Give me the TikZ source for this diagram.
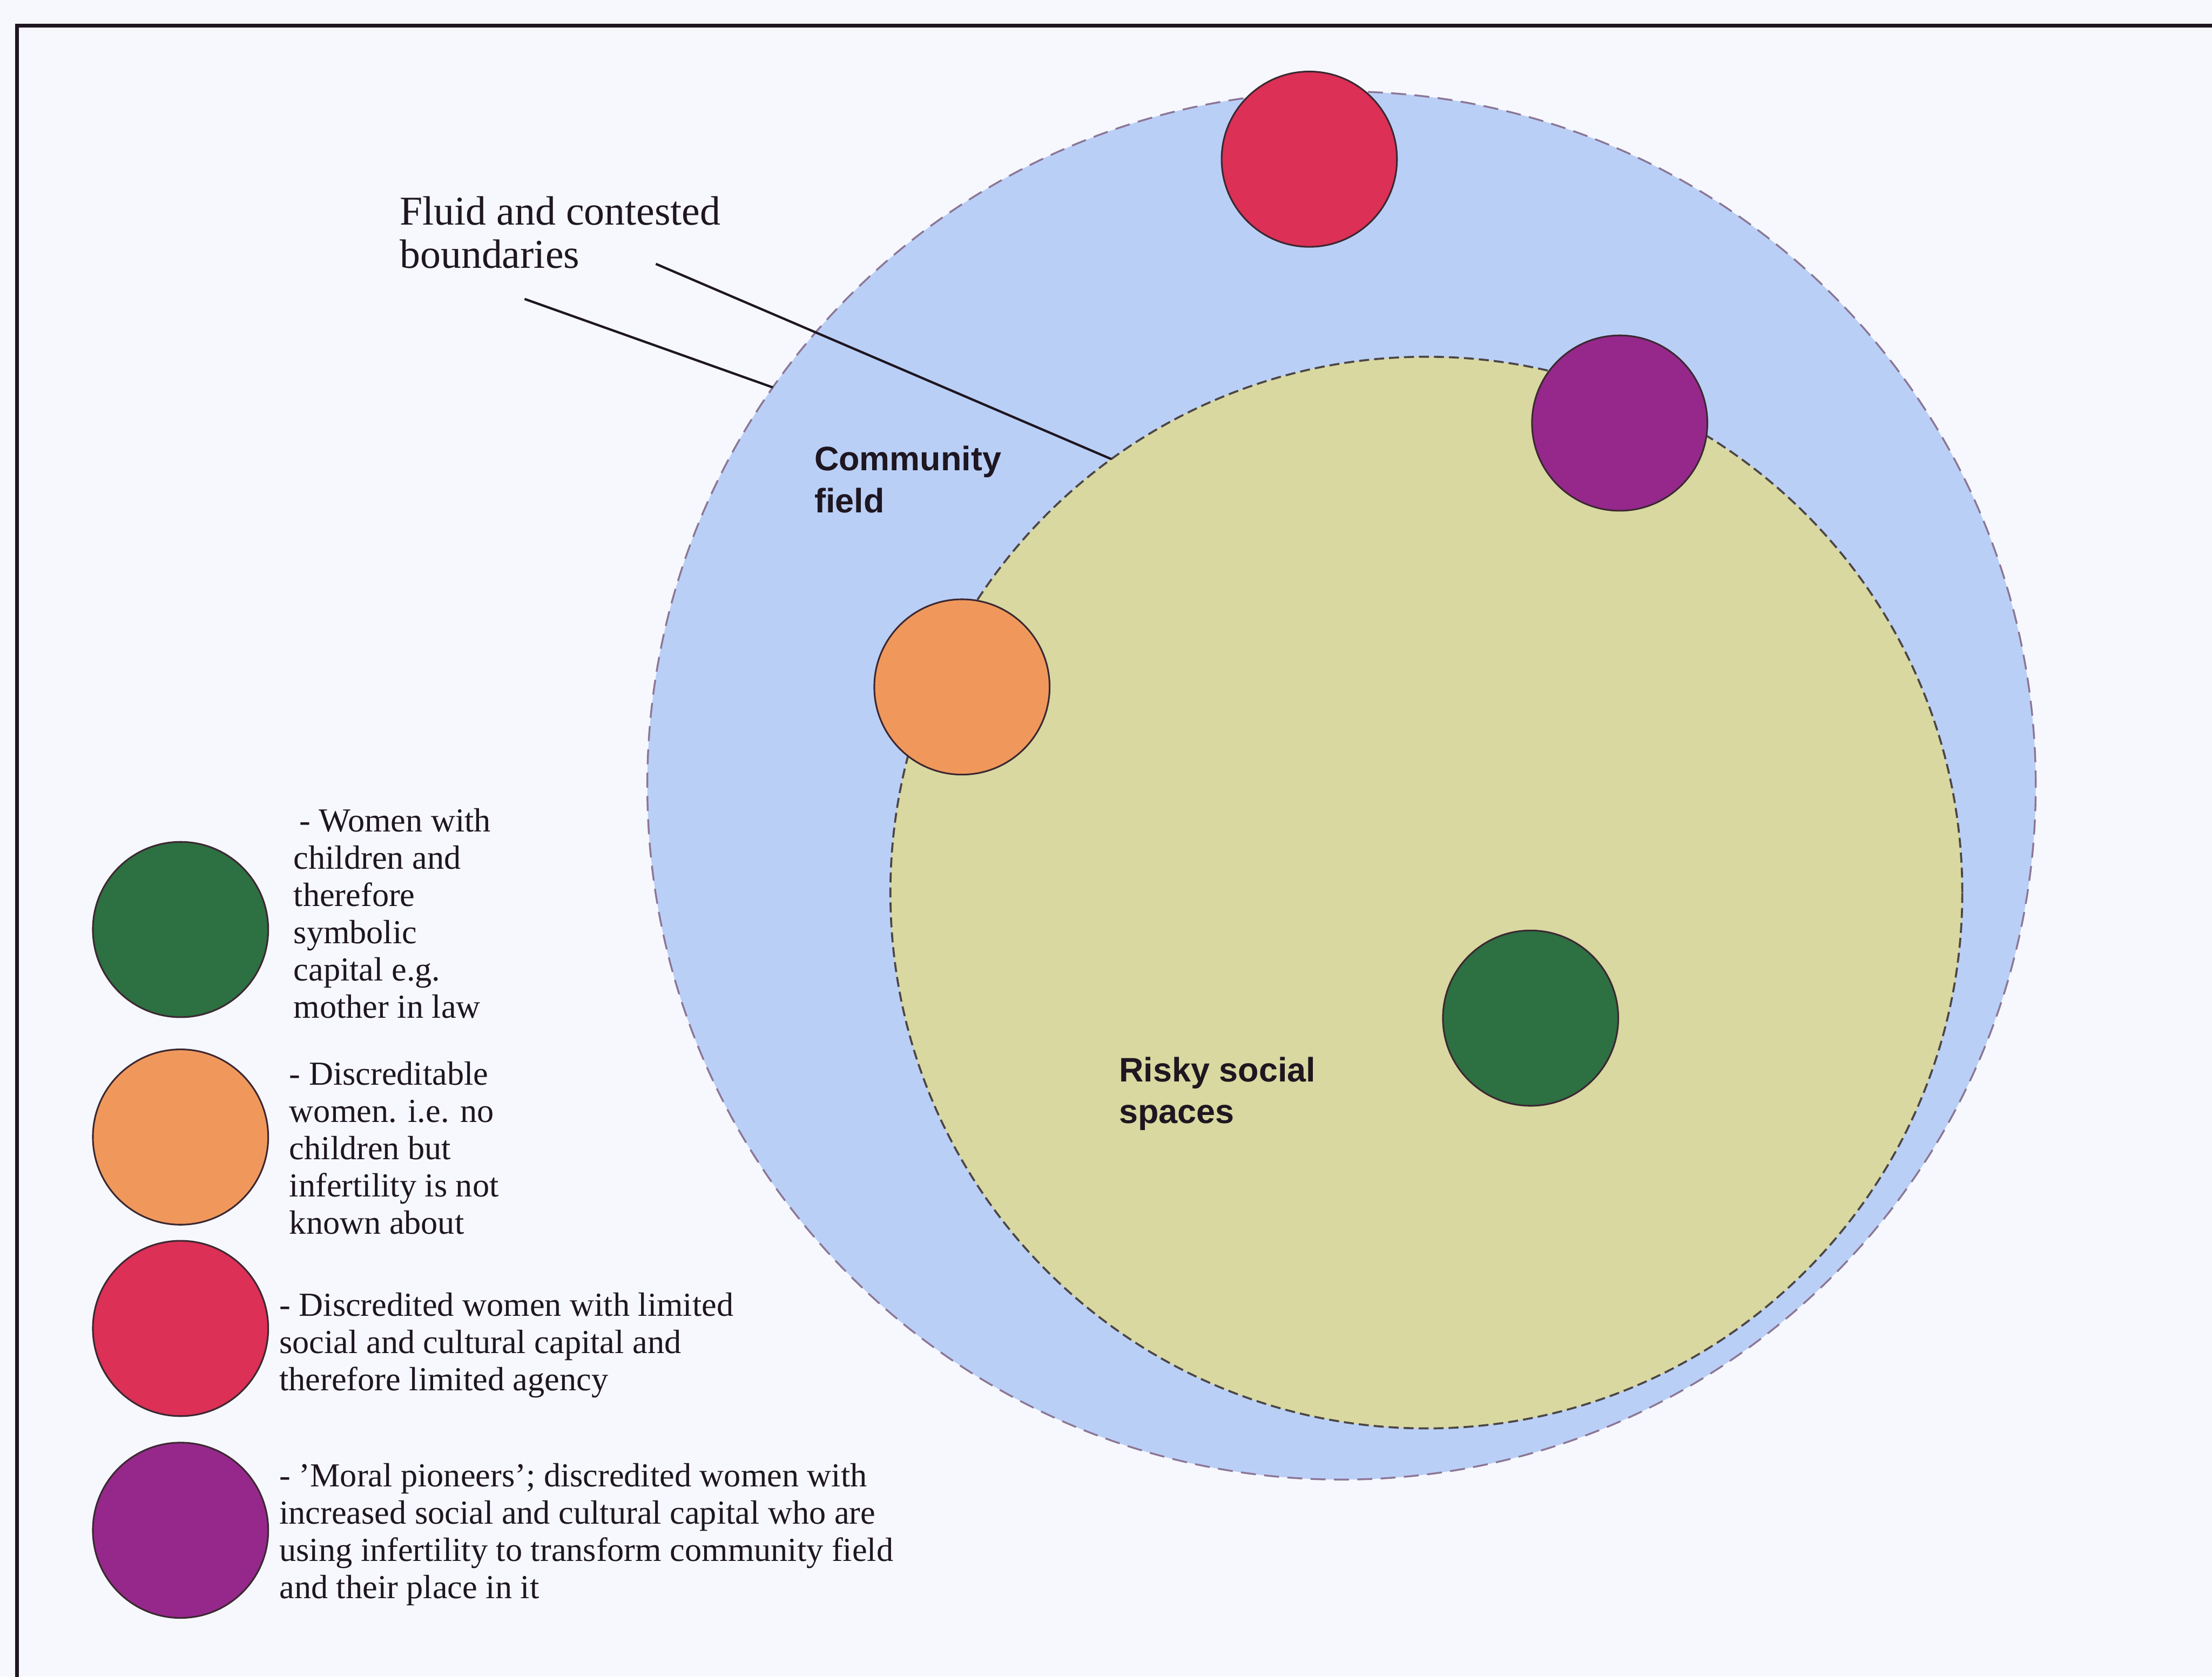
\documentclass[tikz,border=0pt]{standalone}
\usepackage{fontspec}
\setmainfont{Liberation Serif}
\newfontfamily\fieldfont{Liberation Sans}
\usepackage{tikz}
\usetikzlibrary{positioning}

\begin{document}
\begin{tikzpicture}[
    spot/.style={circle, draw=spotline, line width=1pt, minimum size=3.7cm, inner sep=0pt, outer sep=0pt},
    legendtext/.style={anchor=west, align=left, inner sep=0pt, text=inkcolor, font=\fontsize{20.2}{22.4}\selectfont},
    fieldtext/.style={anchor=west, align=left, inner sep=0pt, text=inkcolor, font=\fieldfont\bfseries\fontsize{20.4}{25}\selectfont}
  ]
  % Define colors for the fields and the women
  \definecolor{paper}{RGB}{246,248,253}
  \definecolor{inkcolor}{RGB}{30,22,32}
  \definecolor{spotline}{RGB}{60,40,50}
  \definecolor{fieldblue}{RGB}{186,207,246}     % Community field
  \definecolor{fieldline}{RGB}{140,118,150}
  \definecolor{riskyfill}{RGB}{216,216,160}     % Risky social spaces
  \definecolor{riskyline}{RGB}{75,70,70}
  \definecolor{greencol}{RGB}{45,112,66}
  \definecolor{orangecol}{RGB}{240,152,92}
  \definecolor{redcol}{RGB}{220,48,86}
  \definecolor{purplecol}{RGB}{150,40,140}

  % Page and frame
  \fill[paper] (0,0) rectangle (46.68,-35.39);
  \useasboundingbox (0,0) rectangle (46.68,-35.39);
  \draw[inkcolor, line width=2.3pt] (0.36,-0.54) rectangle (48,-37);

  % Fields
  \node[circle, fill=fieldblue, draw=fieldline, line width=1.1pt, dash pattern=on 9pt off 5pt, minimum size=29.3cm, inner sep=0pt, outer sep=0pt] (community) at (28.31,-16.58) {};
  \node[circle, fill=riskyfill, draw=riskyline, line width=1.2pt, dash pattern=on 6pt off 3pt, minimum size=22.62cm, inner sep=0pt, outer sep=0pt] (risky) at (30.10,-18.84) {};

  % Women in the fields
  \node[spot, fill=redcol] (red) at (27.63,-3.36) {};
  \node[spot, fill=purplecol] (purple) at (34.18,-8.93) {};
  \node[spot, fill=orangecol] (orange) at (20.30,-14.50) {};
  \node[spot, fill=greencol] (green) at (32.30,-21.49) {};

  % Field labels
  \node[fieldtext] (communitylabel) at (17.18,-10.12) {Community\\field};
  \node[fieldtext] (riskylabel) at (23.61,-23.09) {Risky social\\spaces};

  % Boundaries label and its lines
  \node[legendtext, font=\fontsize{24.6}{26}\selectfont] (fluid) at (8.43,-4.91) {Fluid and contested\\boundaries};
  \coordinate (b1) at (11.07,-6.31);
  \coordinate (b2) at (13.84,-5.57);
  \draw[inkcolor, line width=1.4pt] (b1) -- (community.145.1);
  \draw[inkcolor, line width=1.4pt] (b2) -- (risky.126.1);

  % Legend
  \node[spot, fill=greencol] (lgreen) at (3.81,-19.62) {};
  \node[spot, fill=orangecol] (lorange) at (3.81,-24.00) {};
  \node[spot, fill=redcol] (lred) at (3.81,-28.04) {};
  \node[spot, fill=purplecol] (lpurple) at (3.81,-32.30) {};

  \node[legendtext] (tgreen) at (6.19,-19.28) {\,- Women with\\children and\\therefore\\symbolic\\capital e.g.\\mother in law};
  \node[legendtext] (torange) at (6.10,-24.23) {- Discreditable\\women. i.e. no\\children but\\infertility is not\\known about};
  \node[legendtext] (tred) at (5.89,-28.40) {- Discredited women with limited\\social and cultural capital and\\therefore limited agency};
  \node[legendtext] (tpurple) at (5.89,-32.39) {- ’Moral pioneers’; discredited women with\\increased social and cultural capital who are\\using infertility to transform community field\\and their place in it};
\end{tikzpicture}
\end{document}
